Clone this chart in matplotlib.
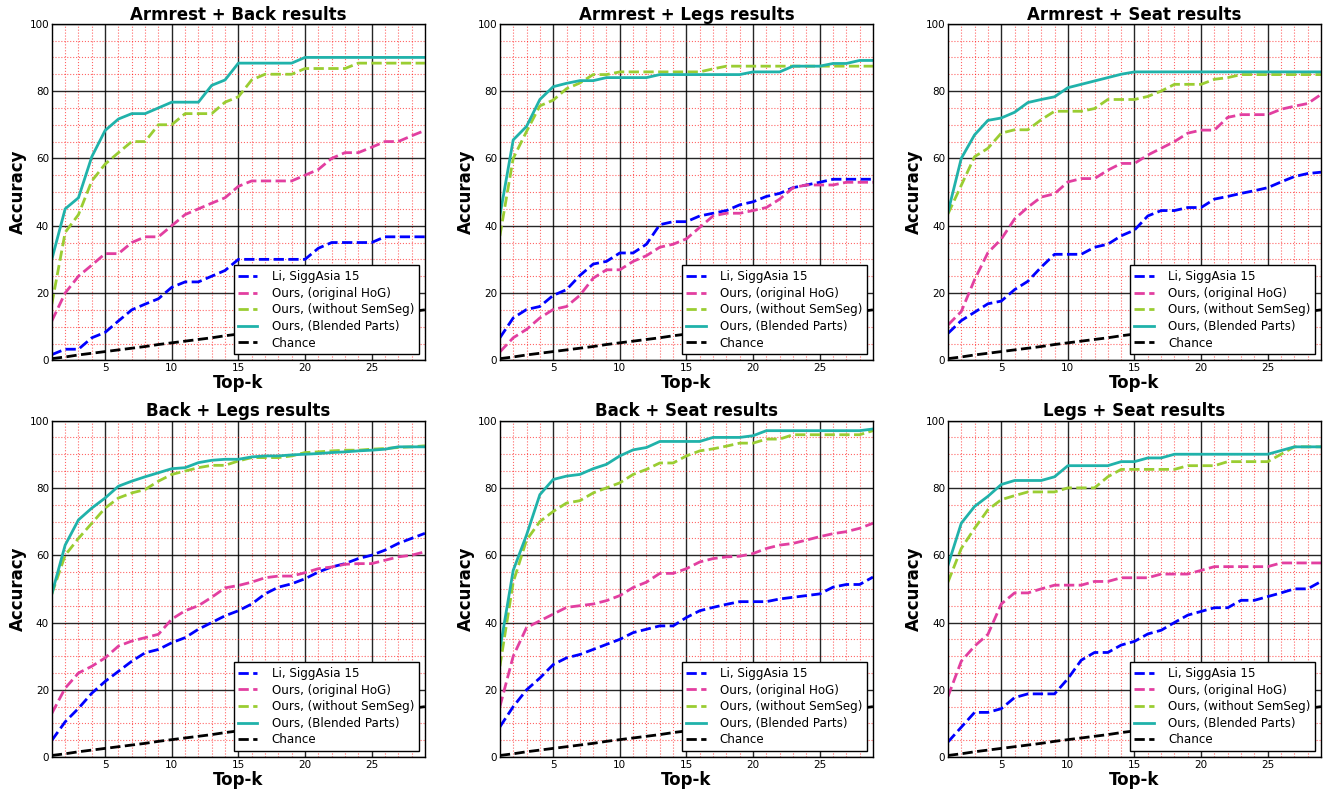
import numpy as np
import matplotlib
matplotlib.use('Agg')
import matplotlib.pyplot as plt
from matplotlib.ticker import MultipleLocator

topk = list(range(1, 30))

titles = ['Armrest + Back results', 'Armrest + Legs results', 'Armrest + Seat results',
          'Back + Legs results', 'Back + Seat results', 'Legs + Seat results']

labels = ['Li, SiggAsia 15', 'Ours, (original HoG)', 'Ours, (without SemSeg)',
          'Ours, (Blended Parts)', 'Chance']

chance = [0.5, 1.0, 1.6, 2.1, 2.6, 3.1, 3.6, 4.1, 4.7, 5.2, 5.7, 6.2, 6.7, 7.3, 7.8,
          8.3, 8.8, 9.3, 9.8, 10.4, 10.9, 11.4, 11.9, 12.4, 12.9, 13.5, 14.0, 14.5, 15.0]

# Armrest + Back
ab_li = [1.7, 3.3, 3.3, 6.7, 8.3, 11.7, 15, 16.7, 18.3, 21.7, 23.3, 23.3, 25, 26.7, 30,
         30, 30, 30, 30, 30, 33.3, 35, 35, 35, 35, 36.7, 36.7, 36.7, 36.7]
ab_hog = [11.7, 20, 25, 28.3, 31.7, 31.7, 35, 36.7, 36.7, 40, 43.3, 45, 46.7, 48.3, 51.7,
          53.3, 53.3, 53.3, 53.3, 55, 56.7, 60, 61.7, 61.7, 63.3, 65, 65, 66.7, 68.3]
ab_nosem = [16.7, 38, 43.3, 53.3, 58.3, 61.7, 65, 65, 70, 70, 73.3, 73.3, 73.3, 76.7, 78.3,
            83.3, 85, 85, 85, 86.7, 86.7, 86.7, 86.7, 88.3, 88.3, 88.3, 88.3, 88.3, 88.3]
ab_blend = [30, 45, 48.3, 60.5, 68.3, 71.7, 73.3, 73.3, 75, 76.7, 76.7, 76.7, 81.7, 83.3, 88.3,
            88.3, 88.3, 88.3, 88.3, 90, 90, 90, 90, 90, 90, 90, 90, 90, 90]

# Armrest + Legs
al_li = [6.7, 12.6, 15.1, 16, 19.3, 21, 25.2, 28.6, 29.4, 31.9, 31.9, 34.5, 40.3, 41.2, 41.2,
         42.9, 43.7, 44.5, 46.2, 47.1, 48.7, 49.6, 51.3, 52.1, 52.9, 53.8, 53.8, 53.8, 53.8]
al_hog = [2.5, 6.7, 9.2, 12.6, 15.1, 16, 19.3, 24.4, 26.9, 26.9, 29.4, 31.1, 33.6, 34.5, 36.1,
          39.5, 42.9, 43.7, 43.7, 44.5, 45.4, 47.9, 51.3, 52.1, 52.1, 52.1, 52.9, 52.9, 52.9]
al_nosem = [37, 60, 68, 75.6, 77.3, 80.7, 82.4, 84.9, 84.9, 85.7, 85.7, 85.7, 85.7, 85.7, 85.7,
            85.7, 86.6, 87.4, 87.4, 87.4, 87.4, 87.4, 87.4, 87.4, 87.4, 87.4, 87.4, 87.4, 87.4]
al_blend = [43, 65.5, 69.5, 77.5, 81.3, 82.3, 83.1, 83.1, 84, 84, 84, 84, 84.9, 84.9, 84.9,
            84.9, 84.9, 84.9, 84.9, 85.7, 85.7, 85.7, 87.4, 87.4, 87.4, 88.2, 88.2, 89.1, 89.1]

# Armrest + Seat
as_li = [8, 11.8, 14.3, 16.8, 17.6, 21, 23.5, 27.7, 31.5, 31.5, 31.5, 33.6, 34.5, 37, 38.7,
         42.9, 44.5, 44.5, 45.4, 45.4, 47.9, 48.7, 49.6, 50.4, 51.3, 53, 54.6, 55.5, 55.9]
as_hog = [10.5, 14.5, 24, 32, 36, 42, 45.5, 48.5, 49.5, 53, 54, 54, 56.5, 58.5, 58.5,
          61, 63, 65, 67.5, 68.4, 68.4, 72.2, 73, 73, 73, 74.6, 75.5, 76.3, 79]
as_nosem = [43.5, 52, 60.5, 63, 67.5, 68.5, 68.5, 71.5, 74, 74, 74, 74.8, 77.5, 77.5, 77.5,
            78.4, 80, 82, 82, 82, 83.5, 84, 84.9, 84.9, 84.9, 84.9, 84.9, 84.9, 84.9]
as_blend = [44, 60, 67, 71.3, 72, 73.7, 76.6, 77.5, 78.3, 81, 82, 83, 84, 85, 85.7,
            85.7, 85.7, 85.7, 85.7, 85.7, 85.7, 85.7, 85.7, 85.7, 85.7, 85.7, 85.7, 85.7, 85.7]

# Back + Legs
bl_li = [5, 10.5, 14.5, 19, 22.5, 25.5, 28.5, 31, 32, 34, 35.5, 38, 40, 42, 43.5,
         45.5, 48.5, 50.5, 51.5, 53, 55, 56.5, 57.5, 59, 60, 61.5, 63.5, 65, 66.5]
bl_hog = [13, 20.5, 25, 27, 29.5, 33, 34.5, 35.5, 36.5, 41, 43.5, 45, 47.5, 50.3, 51,
          52, 53.3, 53.8, 53.8, 54.8, 56, 56.5, 57.3, 57.5, 57.5, 58.5, 59.5, 60, 61]
bl_nosem = [48.5, 60, 65, 69.5, 74, 77, 78.5, 79.5, 82, 84, 85, 86, 86.7, 86.7, 88,
            89, 89, 89, 89.5, 90.5, 90.7, 91, 91.2, 91.2, 91.5, 91.7, 92, 92.2, 92.5]
bl_blend = [48.5, 63, 70.5, 74, 77, 80.5, 82, 83.3, 84.5, 85.7, 86, 87.5, 88.2, 88.5, 88.5,
            89.2, 89.5, 89.5, 89.8, 90, 90.2, 90.5, 90.7, 91, 91.2, 91.5, 92.2, 92.2, 92.2]

# Back + Seat
bs_li = [9, 15, 20, 23.5, 27.5, 29.5, 30.5, 32, 33.5, 35, 37, 38, 39, 39, 41.5,
         43.5, 44.5, 45.4, 46.2, 46.2, 46.2, 47, 47.5, 48, 48.5, 50.5, 51.3, 51.3, 53.5]
bs_hog = [15, 30, 38.5, 40.5, 42.5, 44.5, 45, 45.5, 46.5, 48, 50.4, 52, 54.6, 54.6, 56,
          58, 59, 59.5, 59.7, 60.5, 62, 63, 63.5, 64.5, 65.5, 66.4, 67, 68, 69.5]
bs_nosem = [27, 52, 64.5, 70, 73, 75.5, 76.2, 78.5, 80, 81.5, 84, 85.5, 87.4, 87.4, 89.5,
            91, 91.6, 92.4, 93.3, 93.3, 94.5, 94.5, 95.8, 95.8, 95.8, 95.8, 95.8, 95.8, 97]
bs_blend = [32, 55.5, 66, 78, 82.5, 83.5, 84, 85.7, 87, 89.5, 91.3, 92, 93.8, 93.8, 93.8,
            93.8, 95, 95, 95, 95.5, 97, 97, 97, 97, 97, 97, 97, 97, 97.5]

# Legs + Seat
ls_li = [4.5, 8.9, 13.3, 13.3, 14.4, 17.7, 18.8, 18.8, 18.8, 23.3, 28.8, 31.1, 31.1, 33.3, 34.4,
         36.6, 37.7, 40, 42.2, 43.3, 44.4, 44.4, 46.6, 46.6, 47.7, 48.8, 50, 50, 52.2]
ls_hog = [18, 28.5, 33, 36.5, 45.5, 48.8, 48.8, 50, 51.1, 51.1, 51.1, 52.2, 52.2, 53.3, 53.3,
          53.3, 54.4, 54.4, 54.4, 55.5, 56.6, 56.6, 56.6, 56.6, 56.6, 57.7, 57.7, 57.7, 57.7]
ls_nosem = [52, 62, 68, 73.5, 76.5, 77.7, 78.8, 78.8, 78.8, 80, 80, 80, 83.3, 85.5, 85.5,
            85.5, 85.5, 85.5, 86.6, 86.6, 86.6, 87.8, 87.8, 87.8, 87.8, 90, 92.2, 92.2, 92.2]
ls_blend = [57, 69.5, 74.5, 77.5, 81, 82.2, 82.2, 82.2, 83.3, 86.6, 86.6, 86.6, 86.6, 87.8, 87.8,
            88.9, 88.9, 90, 90, 90, 90, 90, 90, 90, 90, 91.1, 92.2, 92.2, 92.2]

panels = [
    (ab_li, ab_hog, ab_nosem, ab_blend),
    (al_li, al_hog, al_nosem, al_blend),
    (as_li, as_hog, as_nosem, as_blend),
    (bl_li, bl_hog, bl_nosem, bl_blend),
    (bs_li, bs_hog, bs_nosem, bs_blend),
    (ls_li, ls_hog, ls_nosem, ls_blend),
]

c_li = '#0000ff'
c_hog = '#e23fa0'
c_nosem = '#9acd32'
c_blend = '#20b2aa'

fig, axes = plt.subplots(2, 3, figsize=(13.29, 7.92), dpi=100)
plt.subplots_adjust(left=0.039, right=0.994, top=0.970, bottom=0.044,
                    wspace=0.201, hspace=0.179)

for ax, title, (li, hog, nosem, blend) in zip(axes.ravel(), titles, panels):
    ax.plot(topk, li, '--', color=c_li, lw=2, label=labels[0])
    ax.plot(topk, hog, '--', color=c_hog, lw=2, label=labels[1])
    ax.plot(topk, nosem, '--', color=c_nosem, lw=2, label=labels[2])
    ax.plot(topk, blend, '-', color=c_blend, lw=2, label=labels[3])
    ax.plot(topk, chance, '--', color='black', lw=2, label=labels[4])

    ax.set_xlim(1, 29)
    ax.set_ylim(0, 100)
    ax.xaxis.set_major_locator(MultipleLocator(5))
    ax.yaxis.set_major_locator(MultipleLocator(20))
    ax.xaxis.set_minor_locator(MultipleLocator(1))
    ax.yaxis.set_minor_locator(MultipleLocator(5))
    ax.grid(which='major', color='black', linestyle='-', lw=1, alpha=0.85)
    ax.grid(which='minor', color='red', linestyle=':', lw=0.8, alpha=0.6)
    ax.set_axisbelow(True)
    ax.tick_params(which='both', direction='in', length=0, labelsize=7.5, pad=2)

    ax.set_title(title, fontsize=12, fontweight='bold', pad=3)
    ax.set_xlabel('Top-k', fontsize=12, fontweight='bold', labelpad=1)
    ax.set_ylabel('Accuracy', fontsize=12, fontweight='bold', labelpad=2)
    for s in ax.spines.values():
        s.set_linewidth(1)

    leg = ax.legend(loc='lower right', fontsize=8.6, fancybox=False, framealpha=1,
                    edgecolor='black', handlelength=1.6, handletextpad=1.2,
                    borderpad=0.4, borderaxespad=0.5, labelspacing=0.3)
    leg.get_frame().set_linewidth(1)

fig.savefig('out.png', dpi=100)
